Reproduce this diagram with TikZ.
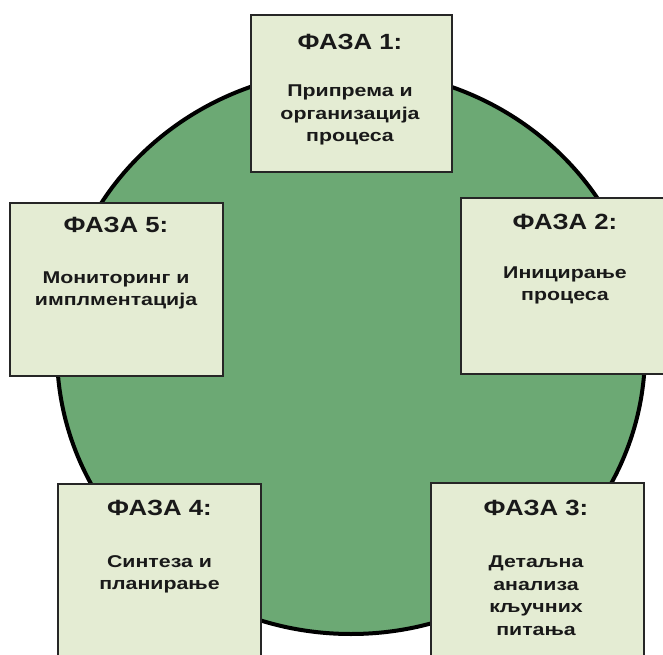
\documentclass[tikz,border=0pt]{standalone}
\usepackage{fontspec}
\setmainfont{Liberation Sans}
\usetikzlibrary{shadows}
\definecolor{circgreen}{RGB}{108,169,116}
\definecolor{boxfill}{RGB}{228,236,211}
\definecolor{txt}{RGB}{25,25,25}
\newcommand\widetext[2]{\scalebox{#1}[1]{\begin{tabular}{@{}c@{}}#2\end{tabular}}}
\tikzset{
  phasebox/.style={anchor=north west, draw=black!85, line width=1.4pt, fill=boxfill, inner sep=0pt,
    drop shadow={shadow xshift=0.9pt, shadow yshift=-0.9pt, fill=black!80, opacity=1}},
  title/.style={font=\bfseries\fontsize{16.5pt}{18pt}\selectfont, text=txt, inner sep=0pt},
  body/.style={font=\bfseries\fontsize{12.8pt}{16.9pt}\selectfont, text=txt, inner sep=0pt}
}
\begin{document}
\begin{tikzpicture}[x=0.75pt,y=-0.75pt]
\useasboundingbox (0,0) rectangle (663,655);
\clip (0,0) rectangle (663,655);
\fill[white] (0,0) rectangle (663,655);
% circle
\draw[draw=black, line width=3pt, fill=circgreen] (351,352) ellipse [x radius=220.5pt, y radius=211.5pt];
% boxes
\node[phasebox, minimum width=150.75pt, minimum height=117.75pt] (b1) at (250,14) {};
\node[phasebox, minimum width=159.75pt, minimum height=129.75pt] (b5) at (9,202) {};
\node[phasebox, minimum width=165pt, minimum height=132pt] (b2) at (460,197) {};
\node[phasebox, minimum width=152.25pt, minimum height=147.75pt] (b4) at (57,483) {};
\node[phasebox, minimum width=159.75pt, minimum height=148.5pt] (b3) at (430,482) {};
% texts
\node[title] (t1) at (350,45) {\widetext{1.17}{ФАЗА 1:}};
\node[body] (d1) at (350,114.5) {\widetext{1.25}{Припрема и\\организација\\процеса}};
\node[title] (t5) at (116,228) {\widetext{1.17}{ФАЗА 5:}};
\node[body] (d5) at (116,290) {\widetext{1.25}{Мониторинг и\\имплментација}};
\node[title] (t2) at (565,225) {\widetext{1.17}{ФАЗА 2:}};
\node[body] (d2) at (565,285) {\widetext{1.25}{Иницирање\\процеса}};
\node[title] (t4) at (159.5,511) {\widetext{1.17}{ФАЗА 4:}};
\node[body] (d4) at (159.5,574) {\widetext{1.25}{Синтеза и\\планирање}};
\node[title] (t3) at (536,511) {\widetext{1.17}{ФАЗА 3:}};
\node[body] (d3) at (536,597) {\widetext{1.25}{Детаљна\\анализа\\кључних\\питања}};
\end{tikzpicture}
\end{document}
